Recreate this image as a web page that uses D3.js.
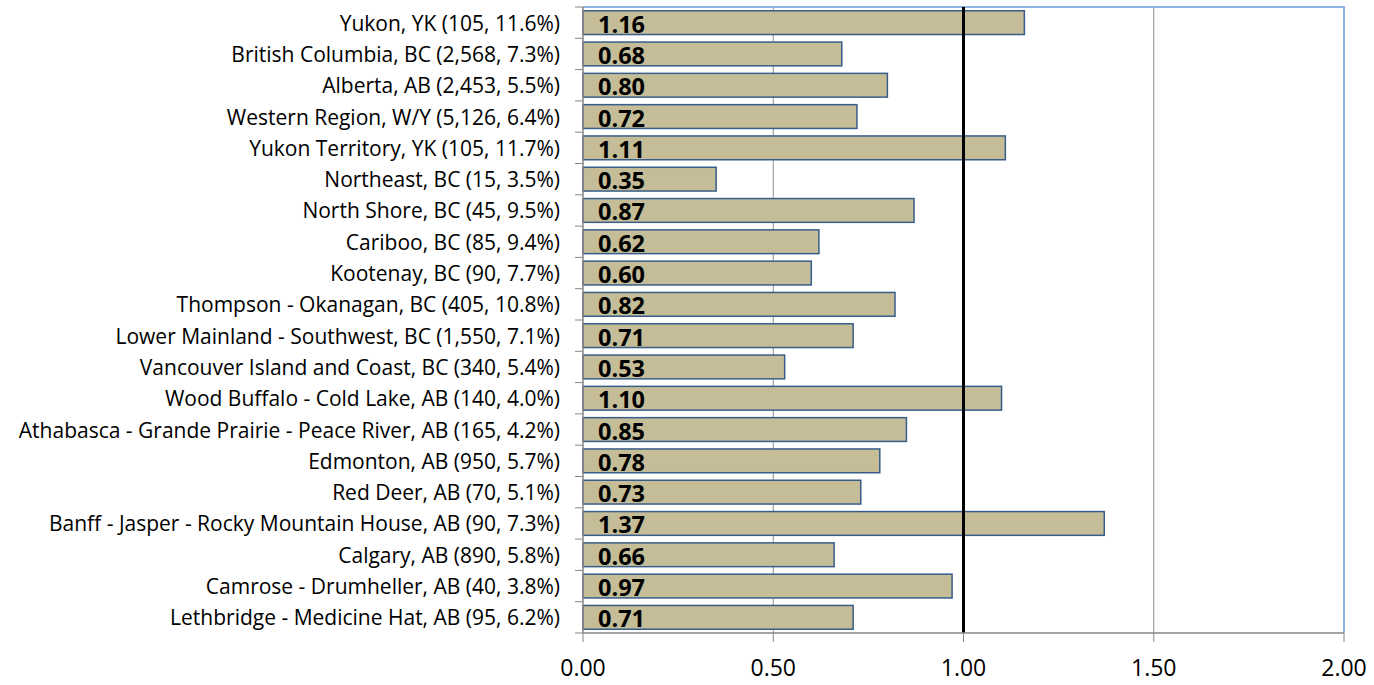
<!DOCTYPE html>
<html><head><meta charset="utf-8">
<script src="https://cdn.jsdelivr.net/npm/d3@7"></script>
<style>body{margin:0;background:#fff;}svg{display:block;}</style>
</head><body>
<svg id="c" width="1374" height="685"></svg>
<script>
const categories = [
"Yukon, YK (105, 11.6%)",
"British Columbia, BC (2,568, 7.3%)",
"Alberta, AB (2,453, 5.5%)",
"Western Region, W/Y (5,126, 6.4%)",
"Yukon Territory, YK (105, 11.7%)",
"Northeast, BC (15, 3.5%)",
"North Shore, BC (45, 9.5%)",
"Cariboo, BC (85, 9.4%)",
"Kootenay, BC (90, 7.7%)",
"Thompson - Okanagan, BC (405, 10.8%)",
"Lower Mainland - Southwest, BC (1,550, 7.1%)",
"Vancouver Island and Coast, BC (340, 5.4%)",
"Wood Buffalo - Cold Lake, AB (140, 4.0%)",
"Athabasca - Grande Prairie - Peace River, AB (165, 4.2%)",
"Edmonton, AB (950, 5.7%)",
"Red Deer, AB (70, 5.1%)",
"Banff - Jasper - Rocky Mountain House, AB (90, 7.3%)",
"Calgary, AB (890, 5.8%)",
"Camrose - Drumheller, AB (40, 3.8%)",
"Lethbridge - Medicine Hat, AB (95, 6.2%)"
];
const values = [1.16,0.68,0.80,0.72,1.11,0.35,0.87,0.62,0.60,0.82,0.71,0.53,1.10,0.85,0.78,0.73,1.37,0.66,0.97,0.71];
const xTicks = [0, 0.5, 1.0, 1.5, 2.0];
const referenceValue = 1.0;

const L = 583, R = 1344, T = 7, B = 633;
const svg = d3.select("#c");
const x = d3.scaleLinear().domain([0, 2]).range([L, R]);
const y = d3.scaleBand().domain(categories).range([T, B]).paddingInner(0.24).paddingOuter(0.12);
const font = "'Open Sans', sans-serif";

// gridlines
svg.append("g").selectAll("line").data(xTicks.filter(t => t > 0 && t < 2)).join("line")
  .attr("x1", d => x(d)).attr("x2", d => x(d)).attr("y1", T).attr("y2", B)
  .attr("stroke", "#8c8c8c").attr("stroke-width", 1);

// plot border top/right
svg.append("path").attr("d", `M${L},${T}H${R}V${B}`).attr("fill", "none")
  .attr("stroke", "#8eb4e3").attr("stroke-width", 2);

// bars
svg.append("g").selectAll("rect").data(values).join("rect")
  .attr("x", x(0)).attr("y", (d, i) => y(categories[i]))
  .attr("width", d => x(d) - x(0)).attr("height", y.bandwidth())
  .attr("fill", "#c4bd97").attr("stroke", "#385d8a").attr("stroke-width", 1.5);

// value labels
svg.append("g").selectAll("text").data(values).join("text")
  .attr("x", x(0) + 15).attr("y", (d, i) => y(categories[i]) + y.bandwidth() / 2 + 1)
  .attr("dominant-baseline", "central")
  .attr("font-family", font).attr("font-weight", "bold").attr("font-size", 23.5).attr("fill", "#000")
  .text(d => d3.format(".2f")(d));

// reference line
svg.append("line").attr("x1", x(referenceValue)).attr("x2", x(referenceValue))
  .attr("y1", T).attr("y2", B).attr("stroke", "#000").attr("stroke-width", 3);

// left axis
const yBounds = d3.range(categories.length + 1).map(i => T + i * (B - T) / categories.length);
const ax = svg.append("g");
ax.append("line").attr("x1", L).attr("x2", L).attr("y1", T).attr("y2", B).attr("stroke", "#868686").attr("stroke-width", 1.5);
ax.selectAll("line.t").data(yBounds).join("line").attr("class", "t")
  .attr("x1", L - 8).attr("x2", L).attr("y1", d => d).attr("y2", d => d)
  .attr("stroke", "#868686").attr("stroke-width", 1);
ax.selectAll("text").data(categories).join("text")
  .attr("x", 560).attr("y", d => y(d) + y.bandwidth() / 2)
  .attr("text-anchor", "end").attr("dominant-baseline", "central")
  .attr("font-family", font).attr("font-size", 21).attr("fill", "#000")
  .text(d => d);

// bottom axis
const bx = svg.append("g");
bx.append("line").attr("x1", L).attr("x2", R).attr("y1", B).attr("y2", B).attr("stroke", "#868686").attr("stroke-width", 1.5);
bx.selectAll("line.t").data(xTicks).join("line").attr("class", "t")
  .attr("x1", d => x(d)).attr("x2", d => x(d)).attr("y1", B).attr("y2", B + 9)
  .attr("stroke", "#868686").attr("stroke-width", 1);
bx.selectAll("text").data(xTicks).join("text")
  .attr("x", d => x(d)).attr("y", 667).attr("text-anchor", "middle").attr("dominant-baseline", "central")
  .attr("font-family", font).attr("font-size", 23).attr("fill", "#000")
  .text(d => d3.format(".2f")(d));
</script>
</body></html>
